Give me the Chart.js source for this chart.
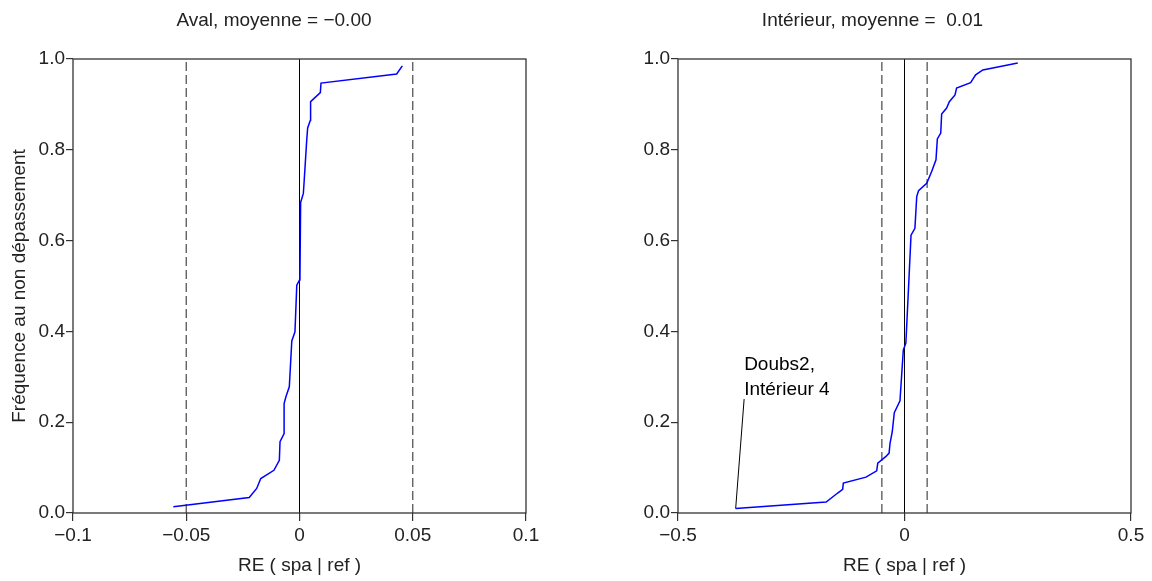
<!DOCTYPE html>
<html>
<head>
<meta charset="utf-8">
<script src="https://cdn.jsdelivr.net/npm/chart.js@4/dist/chart.umd.min.js"></script>
<style>
  body { margin: 0; background: #fff; }
  canvas { position: absolute; top: 0; }
</style>
</head>
<body>
<canvas id="avalChart" width="576" height="581" style="left:0"></canvas>
<canvas id="interieurChart" width="576" height="581" style="left:576px"></canvas>
<script>
// tick positions and labels
const yTicks = [0, 0.2, 0.4, 0.6, 0.8, 1];
const yTickLabels = ['0.0', '0.2', '0.4', '0.6', '0.8', '1.0'];
const avalXTicks = [-0.1, -0.05, 0, 0.05, 0.1];
const avalXTickLabels = ['\u22120.1', '\u22120.05', '0', '0.05', '0.1'];
const interieurXTicks = [-0.5, 0, 0.5];
const interieurXTickLabels = ['\u22120.5', '0', '0.5'];

// empirical distribution, Aval
const avalX = [-0.0557, -0.0222, -0.0189, -0.0171, -0.0113, -0.0089, -0.0086, -0.0068, -0.0068, -0.006,
    -0.0045, -0.0034, -0.002, -0.0012, 0.0, 0.0002, 0.0005, 0.0017, 0.0021, 0.0032,
    0.0036, 0.0048, 0.0049, 0.0092, 0.0095, 0.0429, 0.0454];
const avalY = [0.014, 0.034, 0.054, 0.076, 0.094, 0.116, 0.157, 0.175, 0.241, 0.256,
    0.278, 0.379, 0.399, 0.502, 0.513, 0.52, 0.684, 0.704, 0.734, 0.822,
    0.848, 0.865, 0.906, 0.926, 0.947, 0.967, 0.985];

// empirical distribution, Intérieur
const interieurX = [-0.3727, -0.173, -0.1475, -0.1365, -0.135, -0.085, -0.0614, -0.059, -0.0415, -0.034,
    -0.032, -0.027, -0.0225, -0.010, -0.0026, 0.003, 0.009, 0.0144, 0.023, 0.027,
    0.031, 0.049, 0.060, 0.0695, 0.0725, 0.080, 0.082, 0.093, 0.099, 0.1115,
    0.115, 0.146, 0.157, 0.173, 0.250];
const interieurY = [0.0097, 0.024, 0.044, 0.052, 0.066, 0.079, 0.093, 0.110, 0.124, 0.132,
    0.153, 0.179, 0.221, 0.247, 0.359, 0.374, 0.498, 0.612, 0.627, 0.697,
    0.710, 0.726, 0.752, 0.778, 0.824, 0.837, 0.879, 0.892, 0.906, 0.921,
    0.936, 0.948, 0.965, 0.976, 0.991];

// reference lines
const avalBounds = [-0.05, 0.05];
const interieurBounds = [-0.05, 0.05];
const centreLine = 0;

// pointer to the Doubs2 outlier
const pointerX = [-0.3727, -0.354];
const pointerY = [0.0097, 0.251];

const FONT = '"Liberation Sans", Arial, sans-serif';
const INK = '#222';

function points(xs, ys) {
    return xs.map((x, i) => ({ x, y: ys[i] }));
}

function vline(x, dashed) {
    return {
        data: [{ x, y: 0 }, { x, y: 1 }],
        showLine: true,
        borderColor: dashed ? '#555' : '#000',
        borderWidth: dashed ? 1.3 : 1,
        borderDash: dashed ? [9, 4] : [],
        pointRadius: 0
    };
}

const frame = {
    id: 'frame',
    afterDatasetsDraw(chart) {
        const { ctx, chartArea: a } = chart;
        ctx.save();
        ctx.strokeStyle = '#333';
        ctx.lineWidth = 1.3;
        ctx.strokeRect(a.left, a.top, a.right - a.left, a.bottom - a.top);
        ctx.restore();
    }
};

const heading = {
    id: 'heading',
    afterDraw(chart, args, opts) {
        const ctx = chart.ctx;
        ctx.save();
        ctx.font = '19px ' + FONT;
        ctx.fillStyle = INK;
        ctx.textAlign = 'center';
        ctx.textBaseline = 'middle';
        ctx.fillText(opts.text, opts.x, opts.y);
        ctx.restore();
    }
};

const note = {
    id: 'note',
    afterDraw(chart, args, opts) {
        if (!opts.lines) return;
        const ctx = chart.ctx;
        const px = chart.scales.x.getPixelForValue(opts.x);
        const py = chart.scales.y.getPixelForValue(opts.y);
        ctx.save();
        ctx.font = '19px ' + FONT;
        ctx.fillStyle = '#000';
        ctx.textAlign = 'left';
        ctx.textBaseline = 'middle';
        const n = opts.lines.length;
        opts.lines.forEach((t, i) => ctx.fillText(t, px, py - (n - 1 - i) * opts.gap));
        ctx.restore();
    }
};

function makeChart(id, cfg) {
    const ctx = document.getElementById(id).getContext('2d');
    const datasets = [
        {
            data: points(cfg.xs, cfg.ys),
            showLine: true,
            borderColor: '#0000ff',
            borderWidth: 1.5,
            pointRadius: 0,
            tension: 0
        },
        vline(cfg.bounds[0], true),
        vline(cfg.bounds[1], true),
        vline(centreLine, false)
    ].concat(cfg.extra || []);

    return new Chart(ctx, {
        type: 'scatter',
        data: { datasets },
        plugins: [frame, heading, note],
        options: {
            responsive: false,
            animation: false,
            devicePixelRatio: 1,
            layout: { padding: { top: 59, right: cfg.padRight, left: 0, bottom: 0 } },
            plugins: {
                legend: { display: false },
                tooltip: { enabled: false },
                heading: cfg.heading,
                note: cfg.note || {}
            },
            scales: {
                x: {
                    type: 'linear',
                    min: cfg.xTicks[0],
                    max: cfg.xTicks[cfg.xTicks.length - 1],
                    afterBuildTicks: s => { s.ticks = cfg.xTicks.map(v => ({ value: v })); },
                    afterFit: s => { s.height = 68; },
                    border: { display: false },
                    grid: { drawOnChartArea: false, drawTicks: true, tickLength: 8, color: '#333', lineWidth: 1.2 },
                    ticks: {
                        autoSkip: false,
                        maxRotation: 0,
                        padding: 3,
                        color: INK,
                        font: { family: FONT, size: 19 },
                        callback: (v, i) => cfg.xTickLabels[i]
                    },
                    title: {
                        display: true,
                        text: 'RE ( spa | ref )',
                        color: INK,
                        font: { family: FONT, size: 19 },
                        padding: { top: 0, bottom: 4 }
                    }
                },
                y: {
                    type: 'linear',
                    min: 0,
                    max: 1,
                    afterBuildTicks: s => { s.ticks = yTicks.map(v => ({ value: v })); },
                    afterFit: s => { s.width = cfg.yWidth; },
                    border: { display: false },
                    grid: { drawOnChartArea: false, drawTicks: true, tickLength: 7, color: '#333', lineWidth: 1.2 },
                    ticks: {
                        padding: 1,
                        color: INK,
                        font: { family: FONT, size: 19 },
                        callback: (v, i) => yTickLabels[i]
                    },
                    title: {
                        display: !!cfg.yTitle,
                        text: cfg.yTitle || '',
                        color: INK,
                        font: { family: FONT, size: 19 },
                        padding: { top: 8, bottom: 0 }
                    }
                }
            }
        }
    });
}

makeChart('avalChart', {
    xs: avalX, ys: avalY,
    bounds: avalBounds,
    xTicks: avalXTicks, xTickLabels: avalXTickLabels,
    yWidth: 73, padRight: 50,
    yTitle: 'Fréquence au non dépassement',
    heading: { text: 'Aval, moyenne = \u22120.00', x: 274, y: 21 }
});

makeChart('interieurChart', {
    xs: interieurX, ys: interieurY,
    bounds: interieurBounds,
    xTicks: interieurXTicks, xTickLabels: interieurXTickLabels,
    yWidth: 102, padRight: 21,
    heading: { text: 'Intérieur, moyenne =  0.01', x: 296.5, y: 21 },
    note: { lines: ['Doubs2,', 'Intérieur 4'], x: pointerX[1], y: 0.271, gap: 25 },
    extra: [{
        data: points(pointerX, pointerY),
        showLine: true,
        borderColor: '#000',
        borderWidth: 1,
        pointRadius: 0
    }]
});
</script>
</body>
</html>
